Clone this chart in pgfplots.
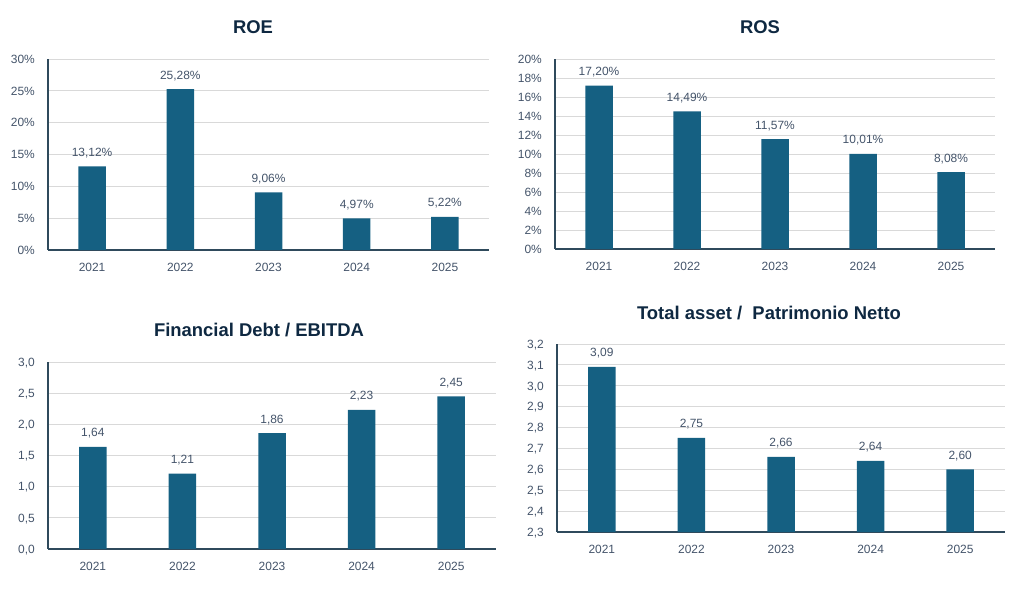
\documentclass[border=0pt]{standalone}
\usepackage{pgfplots}
\pgfplotsset{compat=1.18}
\usepackage{fontspec}
\setmainfont{Liberation Sans}
\definecolor{barc}{HTML}{156082}
\definecolor{ttl}{HTML}{0E2841}
\definecolor{tck}{HTML}{44546A}
\definecolor{axl}{HTML}{2F4A5C}
\definecolor{grd}{HTML}{D9D9D9}
\pgfplotsset{
 myax/.style={
  scale only axis, anchor=south west,
  ybar, bar width=27.5bp,
  xmin=-0.5, xmax=4.5, xtick={0,1,2,3,4}, xticklabels={2021,2022,2023,2024,2025},
  axis x line*=bottom, axis y line*=left,
  axis line style={axl, line width=1.6bp},
  ymajorgrids, grid style={grd, line width=0.9bp},
  major tick length=0pt,
  tick label style={font=\fontsize{12}{14}\selectfont, text=tck, inner sep=0pt},
  xticklabel style={anchor=base, yshift=-22bp},
  yticklabel style={anchor=base east, xshift=-13bp, yshift=-4.3bp},
  /pgf/number format/assume math mode=true,
  every node near coord/.append style={font=\fontsize{12}{14}\selectfont, text=tck, anchor=base, inner sep=0pt, yshift=10bp},
 },
 mybar/.style={fill=barc, draw=none},
}
\tikzset{ttlsty/.style={font=\bfseries\fontsize{18.5}{22}\selectfont, text=ttl, anchor=base, inner sep=0pt}}
\pgfplotstableread{
x y
0 13.12
1 25.28
2 9.06
3 4.97
4 5.22
}\roe
\pgfplotstableread{
x y
0 17.20
1 14.49
2 11.57
3 10.01
4 8.08
}\ros
\pgfplotstableread{
x y
0 1.64
1 1.21
2 1.86
3 2.23
4 2.45
}\fde
\pgfplotstableread{
x y
0 3.09
1 2.75
2 2.66
3 2.64
4 2.60
}\tap
\begin{document}
\begin{tikzpicture}[x=1bp,y=1bp]
\useasboundingbox (0,0) rectangle (1024,601);
% ROE
\begin{axis}[myax, at={(48bp,351bp)}, width=441bp, height=191bp,
  ymin=0, ymax=30, ytick={0,5,10,15,20,25,30},
  yticklabel={\pgfmathprintnumber{\tick}\%},
  nodes near coords={\pgfmathprintnumber[fixed,fixed zerofill,precision=2,use comma]{\pgfplotspointmeta}\%}]
\addplot[mybar] table[x=x,y=y] {\roe};
\end{axis}
% ROS
\begin{axis}[myax, at={(555bp,352bp)}, width=440bp, height=190bp,
  ymin=0, ymax=20, ytick={0,2,4,6,8,10,12,14,16,18,20},
  yticklabel={\pgfmathprintnumber{\tick}\%},
  nodes near coords={\pgfmathprintnumber[fixed,fixed zerofill,precision=2,use comma]{\pgfplotspointmeta}\%}]
\addplot[mybar] table[x=x,y=y] {\ros};
\end{axis}
% FD/EBITDA
\begin{axis}[myax, at={(48bp,52bp)}, width=448bp, height=187bp,
  ymin=0, ymax=3, ytick={0,0.5,1,1.5,2,2.5,3},
  yticklabel={\pgfmathprintnumber[fixed,fixed zerofill,precision=1,use comma]{\tick}},
  nodes near coords={\pgfmathprintnumber[fixed,fixed zerofill,precision=2,use comma]{\pgfplotspointmeta}}]
\addplot[mybar] table[x=x,y=y] {\fde};
\end{axis}
% Total asset / PN
\begin{axis}[myax, at={(557bp,69bp)}, width=448bp, height=188bp,
  ymin=2.3, ymax=3.2, ytick={2.3,2.4,2.5,2.6,2.7,2.8,2.9,3.0,3.1,3.2},
  yticklabel={\pgfmathprintnumber[fixed,fixed zerofill,precision=1,use comma]{\tick}},
  nodes near coords={\pgfmathprintnumber[fixed,fixed zerofill,precision=2,use comma]{\pgfplotspointmeta}}]
\addplot[mybar] table[x=x,y=y] {\tap};
\end{axis}
\node[ttlsty] at (253,567) {ROE};
\node[ttlsty] at (760,567) {ROS};
\node[ttlsty] at (259,264) {Financial Debt / EBITDA};
\node[ttlsty] at (769,281) {Total asset /\ \ Patrimonio Netto};
\end{tikzpicture}
\end{document}
